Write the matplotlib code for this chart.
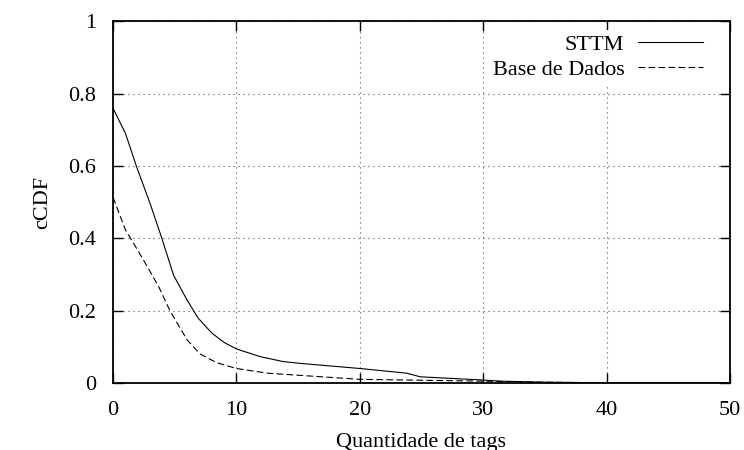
import matplotlib
matplotlib.use("Agg")
import matplotlib.pyplot as plt

plt.rcParams["font.family"] = ["Liberation Serif", "DejaVu Serif"]
plt.rcParams["font.size"] = 16

# STTM curve
sttm_x = [0, 1.0, 1.9, 3.0, 3.95, 4.9, 6.0, 6.9, 8.0, 9.0, 10, 11.9, 13.8, 15.2, 20,
          23.8, 24.9, 30, 31.4, 35, 40, 50]
sttm_y = [0.759, 0.69, 0.598, 0.496, 0.40, 0.298, 0.229, 0.179, 0.138, 0.112, 0.094,
          0.073, 0.059, 0.054, 0.040, 0.027, 0.017, 0.008, 0.005, 0.002, 0.0005, 0.0]

# Base de Dados curve
base_x = [0, 1.0, 1.5, 2.46, 3.7, 4.6, 6.0, 7.05, 8.4, 10, 12.5, 20, 30, 35, 40, 50]
base_y = [0.513, 0.423, 0.395, 0.34, 0.266, 0.20, 0.119, 0.080, 0.056, 0.040, 0.027,
          0.010, 0.005, 0.002, 0.0005, 0.0]

x_ticks = [0, 10, 20, 30, 40, 50]
y_ticks = [0, 0.2, 0.4, 0.6, 0.8, 1]
y_labels = ["0", "0.2", "0.4", "0.6", "0.8", "1"]

fig = plt.figure(figsize=(7.44, 4.5), dpi=100)
ax = fig.add_axes([0.152, 0.149, 0.829, 0.804])

ax.plot(sttm_x, sttm_y, color="black", lw=0.8, label="STTM")
ax.plot(base_x, base_y, color="black", lw=0.8, dashes=(6, 3), label="Base de Dados")

ax.set_xlim(0, 50)
ax.set_ylim(0, 1)
ax.set_xticks(x_ticks)
ax.set_yticks(y_ticks)
ax.set_yticklabels(y_labels)
ax.tick_params(direction="in", length=7, width=1, top=True, right=True)
ax.tick_params(axis="x", pad=13)
ax.tick_params(axis="y", pad=12)
for s in ax.spines.values():
    s.set_linewidth(1.3)
ax.grid(True, color="#505050", linestyle=(0, (1, 3.5)), linewidth=0.8)

ax.set_xlabel("Quantidade de tags", labelpad=9)
ax.set_ylabel("cCDF", labelpad=12)

leg = ax.legend(loc="upper right", bbox_to_anchor=(0.964, 0.975), markerfirst=False,
                frameon=True, fancybox=False,
                edgecolor="none", facecolor="white", framealpha=1,
                handlelength=2.95, handletextpad=0.6, labelspacing=0.2,
                borderaxespad=0.0, borderpad=0.2)
leg.set_zorder(5)

fig.savefig("out.png", dpi=100)
